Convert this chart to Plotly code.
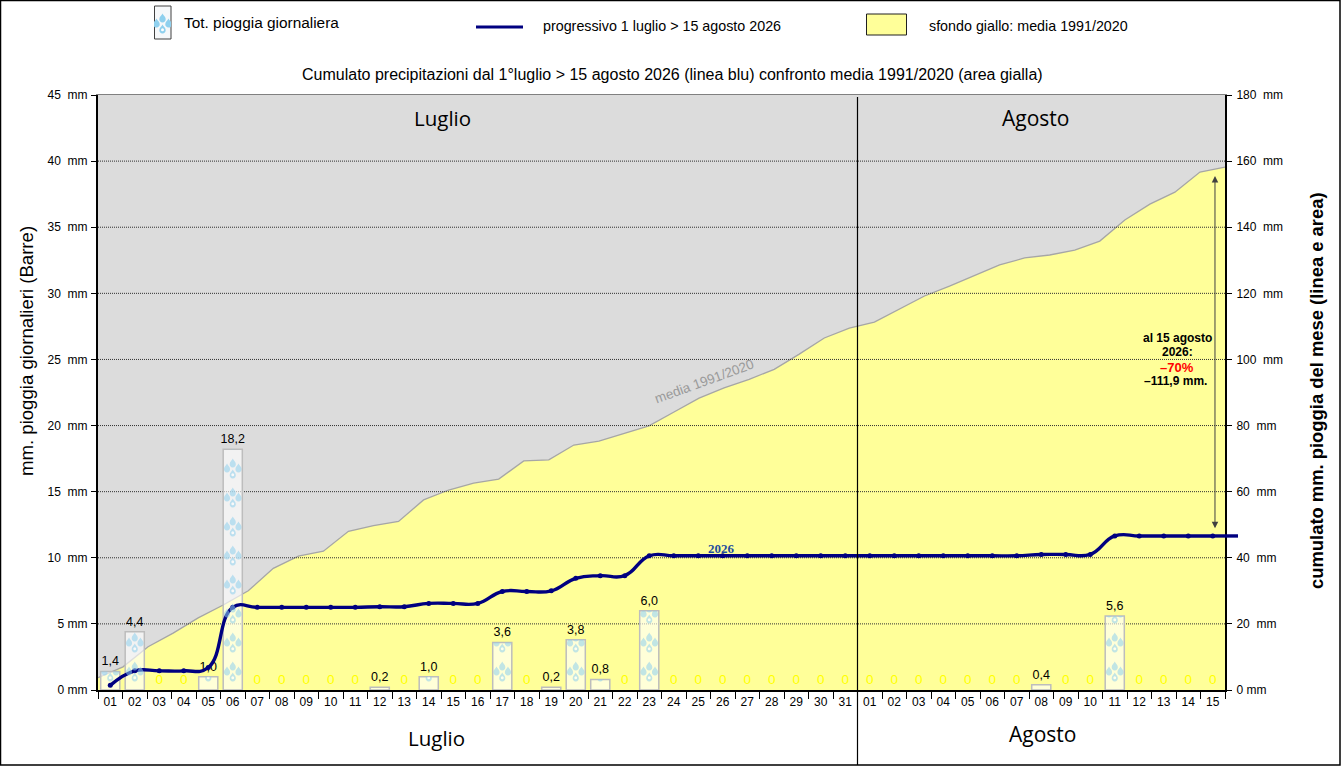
import base64
import plotly.graph_objects as go

# pixel box of the plot area inside the 1341x766 page
W, H = 1341, 766
L, R, T, B = 98, 1225, 95, 690

day_labels = ['%02d' % d for d in range(1, 32)] + ['%02d' % d for d in range(1, 16)]
day_keys = ['L%02d' % d for d in range(1, 32)] + ['A%02d' % d for d in range(1, 16)]

daily_rain = [1.4, 4.4, 0, 0, 1.0, 18.2, 0, 0, 0, 0, 0, 0.2, 0, 1.0, 0, 0, 3.6, 0, 0.2, 3.8, 0.8, 0, 6.0,
              0, 0, 0, 0, 0, 0, 0, 0,
              0, 0, 0, 0, 0, 0, 0, 0.4, 0, 0, 5.6, 0, 0, 0, 0]

cumulated_2026 = [1.4, 5.8, 5.8, 5.8, 6.8, 25.0, 25.0, 25.0, 25.0, 25.0, 25.0, 25.2, 25.2, 26.2, 26.2, 26.2,
                  29.8, 29.8, 30.0, 33.8, 34.6, 34.6, 40.6, 40.6, 40.6, 40.6, 40.6, 40.6, 40.6, 40.6, 40.6,
                  40.6, 40.6, 40.6, 40.6, 40.6, 40.6, 40.6, 41.0, 41.0, 41.0, 46.6, 46.6, 46.6, 46.6, 46.6]

mean_1991_2020 = [3.7, 7.0, 13.1, 17.2, 21.8, 25.7, 30.0, 36.8, 40.5, 42.0, 48.0, 49.7, 51.0, 57.5, 60.5, 62.6,
                  63.8, 69.3, 69.6, 74.1, 75.3, 77.7, 79.9, 84.1, 88.3, 91.4, 94.0, 97.0, 101.6, 106.5, 109.5,
                  111.3, 115.3, 119.2, 122.2, 125.5, 128.6, 130.7, 131.6, 133.1, 135.8, 142.2, 147.0, 150.6,
                  156.7, 158.2]

left_ticks = [0, 5, 10, 15, 20, 25, 30, 35, 40, 45]
left_labels = ['0\u00a0mm', '5\u00a0mm', '10\u00a0\u00a0mm', '15\u00a0\u00a0mm', '20\u00a0\u00a0mm',
               '25\u00a0\u00a0mm', '30\u00a0\u00a0mm', '35\u00a0\u00a0mm', '40\u00a0\u00a0mm', '45\u00a0\u00a0mm']
right_ticks = [0, 20, 40, 60, 80, 100, 120, 140, 160, 180]
right_labels = ['0\u00a0mm', '20\u00a0\u00a0mm', '40\u00a0\u00a0mm', '60\u00a0\u00a0mm', '80\u00a0\u00a0mm',
                '100\u00a0\u00a0mm', '120\u00a0\u00a0mm', '140\u00a0\u00a0mm', '160\u00a0\u00a0mm', '180\u00a0\u00a0mm']

FONT = 'Liberation Sans'
NAVY = '#000080'


def px(x):
    return (x - L) / (R - L)


def py(y):
    return (B - y) / (B - T)


def drop(cx, cy, ring=False):
    d = 'M%.1f %.1f C%.1f %.1f %.1f %.1f %.1f %.1f A3.2 3.2 0 1 0 %.1f %.1f C%.1f %.1f %.1f %.1f %.1f %.1f Z' % (
        cx, cy - 4.5, cx - 0.6, cy - 2.6, cx - 3.1, cy - 1.4, cx - 3.1, cy + 0.6,
        cx + 3.1, cy + 0.6, cx + 3.1, cy - 1.4, cx + 0.6, cy - 2.6, cx, cy - 4.5)
    s = '<path d="%s" fill="#8fd0ee"/>' % d
    if ring:
        s += '<circle cx="%.1f" cy="%.1f" r="1.5" fill="#ffffff"/>' % (cx, cy + 0.8)
    return s


def drop_group(cx, cy):
    return drop(cx, cy - 6) + drop(cx - 6, cy - 1) + drop(cx + 6, cy - 1) + drop(cx, cy + 5, ring=True)


def svg_uri(w, h, body):
    svg = '<svg xmlns="http://www.w3.org/2000/svg" width="%d" height="%.1f" viewBox="0 0 %d %.1f">%s</svg>' % (w, h, w, h, body)
    return 'data:image/svg+xml;base64,' + base64.b64encode(svg.encode()).decode()


def bar_drops(value):
    # the drops repeat every 29 px, counted from the foot of the bar
    h = value * (B - T) / 45
    body = ''
    c = 18
    while c - 10 < h:
        body += drop_group(10, h - c)
        c += 29
    return svg_uri(20, h, body)


fig = go.Figure()

fig.add_trace(go.Scatter(x=list(range(46)), y=mean_1991_2020, xaxis='x', yaxis='y', mode='lines',
                         fill='tozeroy', fillcolor='#FFFF99', line=dict(color='#A6A6A6', width=1.3),
                         hoverinfo='skip', showlegend=False))

# gridlines must lie over the yellow area, so they are a trace and not axis grid
grid_x, grid_y = [], []
for v in right_ticks[1:-1]:
    grid_x += [0, 45, None]
    grid_y += [v, v, None]
fig.add_trace(go.Scatter(x=grid_x, y=grid_y, xaxis='x', yaxis='y', mode='lines',
                         line=dict(color='#303030', width=1, dash='1px,1px'), hoverinfo='skip', showlegend=False))

bar_text = [('%.1f' % v).replace('.', ',') if v > 0 else '0' for v in daily_rain]
fig.add_trace(go.Bar(x=day_keys, y=daily_rain, xaxis='x2', yaxis='y2', width=0.78,
                     marker=dict(color='rgba(255,255,255,0.62)',
                                 line=dict(color='#BDBDBD', width=[1.5 if v > 0 else 0 for v in daily_rain])),
                     text=bar_text, textposition='outside', cliponaxis=False, constraintext='none',
                     textfont=dict(family=FONT, size=[12.5 if v > 0 else 13.5 for v in daily_rain],
                                   color=['#000000' if v > 0 else '#FFFF00' for v in daily_rain]),
                     showlegend=False))

fig.add_trace(go.Scatter(x=day_keys, y=cumulated_2026, xaxis='x2', yaxis='y3', mode='lines+markers',
                         line=dict(color=NAVY, width=3.4, shape='spline', smoothing=1.3),
                         marker=dict(color=NAVY, size=5), showlegend=False))

images = []
for i, v in enumerate(daily_rain):
    if v > 0:
        images.append(dict(source=bar_drops(v), xref='x2', yref='y2', x=i, y=v, sizex=0.78, sizey=v,
                           xanchor='center', yanchor='top', sizing='stretch', layer='above', opacity=0.55))
images.append(dict(source=svg_uri(17, 33, drop_group(8.5, 18)), xref='paper', yref='paper', x=px(154), y=py(6),
                   sizex=17 / (R - L), sizey=33 / (B - T), xanchor='left', yanchor='top', sizing='stretch',
                   layer='above'))

shapes = [
    # page frame
    dict(type='rect', xref='paper', yref='paper', x0=px(0.5), x1=px(W - 1), y0=py(H - 1), y1=py(0.5),
         line=dict(color='#000000', width=1.5)),
    # month divider
    dict(type='line', xref='paper', yref='paper', x0=px(857.5), x1=px(857.5), y0=py(H - 1), y1=py(97),
         line=dict(color='#000000', width=1.2)),
    # the blue line runs on past the right axis
    dict(type='line', xref='paper', yref='y', x0=px(1213), x1=px(1238), y0=cumulated_2026[-1], y1=cumulated_2026[-1],
         line=dict(color=NAVY, width=3.4)),
    # legend
    dict(type='rect', xref='paper', yref='paper', x0=px(154.5), x1=px(171), y0=py(39), y1=py(6),
         line=dict(color='#404040', width=1), fillcolor='#F6F8FA', layer='below'),
    dict(type='line', xref='paper', yref='paper', x0=px(476), x1=px(523), y0=py(27), y1=py(27),
         line=dict(color=NAVY, width=3)),
    dict(type='rect', xref='paper', yref='paper', x0=px(866.5), x1=px(906.5), y0=py(35), y1=py(14),
         line=dict(color='#202020', width=1), fillcolor='#FFFF99'),
]


def label(x, y, text, size=13, color='#000000', xanchor='center', family=FONT, angle=0):
    return dict(xref='paper', yref='paper', x=px(x), y=py(y), text=text, showarrow=False, xanchor=xanchor,
                yanchor='middle', textangle=angle, font=dict(family=family, size=size, color=color))


annotations = [
    label(182, 23, 'Tot. pioggia giornaliera', size=15.4, xanchor='left'),
    label(541, 26, 'progressivo 1 luglio &gt; 15 agosto 2026', size=14.3, xanchor='left'),
    label(927, 26, 'sfondo giallo: media 1991/2020', size=14.3, xanchor='left'),
    label(672, 75, 'Cumulato precipitazioni dal 1°luglio &gt; 15 agosto 2026 (linea blu) confronto media 1991/2020 (area gialla)', size=16),
    label(442, 118, 'Luglio', size=20.5, family='Open Sans'),
    label(1035, 118, 'Agosto', size=21, family='Open Sans'),
    label(436, 738, 'Luglio', size=20.5, family='Open Sans'),
    label(1042, 734, 'Agosto', size=21, family='Open Sans'),
    label(26, 351, 'mm. pioggia giornalieri (Barre)', size=18.6, angle=-90),
    label(1316, 391, '<b>cumulato mm. pioggia del mese (linea e area)</b>', size=18.4, angle=-90),
    label(721, 548, '<b>2026</b>', size=13, color='#1F4E9E', family='Liberation Serif'),
    label(704, 381, 'media 1991/2020', size=13.5, color='#9A9A9A', angle=-20),
    label(1177, 338, '<b>al 15 agosto</b>', size=12),
    label(1177, 352, '<b>2026:</b>', size=12),
    label(1177, 367, '<b>–70%</b>', size=13, color='#FF0000'),
    label(1175, 381, '<b>–111,9 mm.</b>', size=12),
    dict(xref='x', yref='y', axref='x', ayref='y', x=44.6, y=155.5, ax=44.6, ay=48.5, text='', showarrow=True,
         arrowhead=2, arrowside='end+start', arrowsize=1.3, arrowwidth=1, arrowcolor='#404040'),
]

fig.update_layout(
    width=W, height=H,
    margin=dict(l=L, r=W - R, t=T, b=H - B),
    paper_bgcolor='#FFFFFF', plot_bgcolor='#DCDCDC',
    font=dict(family=FONT, size=12, color='#000000'),
    barmode='overlay', showlegend=False, hovermode=False,
    images=images, shapes=shapes, annotations=annotations,
    xaxis=dict(range=[0, 45], side='top', anchor='y', showticklabels=False, ticks='', showgrid=False, zeroline=False,
               showline=True, linecolor='#808080', linewidth=1),
    yaxis=dict(range=[0, 180], side='right', anchor='x', tickmode='array', tickvals=right_ticks, ticktext=right_labels,
               ticks='outside', ticklen=5, tickcolor='#000000', showgrid=False, zeroline=False, showline=True,
               linecolor='#000000', linewidth=2, tickfont=dict(size=12), ticklabelstandoff=2),
    xaxis2=dict(type='category', categoryorder='array', categoryarray=day_keys, overlaying='x', anchor='y2',
                side='bottom', range=[-0.5, 45.5], tickmode='array', tickvals=day_keys, ticktext=day_labels,
                tickson='boundaries', ticks='outside', ticklen=7, tickcolor='#000000', showgrid=False, zeroline=False,
                showline=True, linecolor='#000000', linewidth=2, tickangle=0, tickfont=dict(size=12)),
    yaxis2=dict(range=[0, 45], overlaying='y', side='left', anchor='x2', tickmode='array', tickvals=left_ticks,
                ticktext=left_labels, ticks='outside', ticklen=5, tickcolor='#000000', showgrid=False, zeroline=False,
                showline=True, linecolor='#000000', linewidth=2, tickfont=dict(size=12), ticklabelstandoff=1),
    yaxis3=dict(range=[0, 180], overlaying='y', side='right', anchor='x2', visible=False),
)

# the page's default body margin would push the whole figure 8 px off
fig.write_html("out.html", config=dict(displayModeBar=False), post_script="document.body.style.margin='0';")
